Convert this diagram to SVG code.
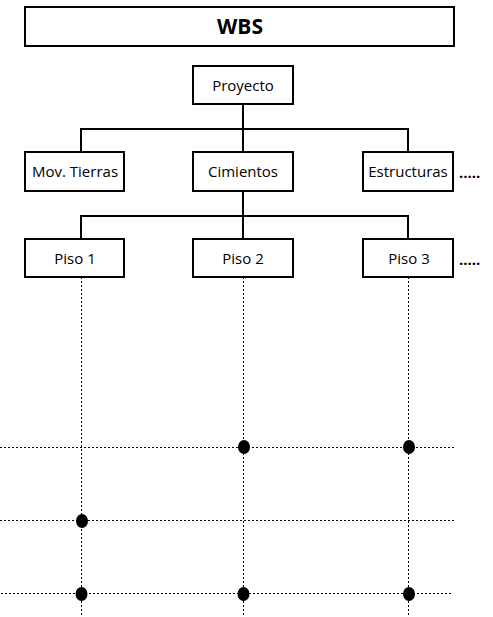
<svg xmlns="http://www.w3.org/2000/svg" width="493" height="617" viewBox="0 0 493 617">
  <style>
    .box { fill: #fff; stroke: #000; stroke-width: 2; }
    .lbl { font-family: "Open Sans", "Liberation Sans", sans-serif; font-size: 15px; fill: #000; text-anchor: middle; }
    .title { font-family: "Open Sans", "Liberation Sans", sans-serif; font-size: 21px; font-weight: bold; fill: #000; text-anchor: middle; }
    .more { font-family: "Open Sans", "Liberation Sans", sans-serif; font-size: 15px; font-weight: bold; fill: #000; }
    .tree { fill: none; stroke: #000; stroke-width: 2; }
    .grid { fill: none; stroke: #000; stroke-width: 1; stroke-dasharray: 2 2; }
    .mark { fill: #000; }
  </style>

  <!-- dotted grid lines -->
  <g id="grid">
    <path class="grid" d="M81.5 277V617M243.5 277V617M408.5 277V617"/>
    <path class="grid" d="M0 447.5H455M0 520.5H455M1 593.5H453"/>
  </g>

  <!-- tree connectors -->
  <g id="connectors">
    <path class="tree" d="M243 104V152M81 152V129H408V152"/>
    <path class="tree" d="M243 191V239M81 239V216H408V239"/>
  </g>

  <g id="title">
    <rect class="box" x="25" y="7" width="429" height="39"/>
    <text class="title" x="240" y="34">WBS</text>
  </g>

  <g id="proyecto">
    <rect class="box" x="193" y="66" width="100" height="38"/>
    <text class="lbl" x="243" y="91">Proyecto</text>
  </g>

  <g id="mov-tierras">
    <rect class="box" x="25" y="152" width="99" height="39"/>
    <text class="lbl" x="75" y="177">Mov. Tierras</text>
  </g>
  <g id="cimientos">
    <rect class="box" x="193" y="152" width="100" height="39"/>
    <text class="lbl" x="243" y="177">Cimientos</text>
  </g>
  <g id="estructuras">
    <rect class="box" x="363" y="152" width="90" height="39"/>
    <text class="lbl" x="408" y="177">Estructuras</text>
  </g>
  <text class="more" x="459" y="178">.....</text>

  <g id="piso-1">
    <rect class="box" x="25" y="239" width="99" height="38"/>
    <text class="lbl" x="75" y="264">Piso 1</text>
  </g>
  <g id="piso-2">
    <rect class="box" x="193" y="239" width="100" height="38"/>
    <text class="lbl" x="243" y="264">Piso 2</text>
  </g>
  <g id="piso-3">
    <rect class="box" x="363" y="239" width="90" height="38"/>
    <text class="lbl" x="409" y="264">Piso 3</text>
  </g>
  <text class="more" x="459" y="265">.....</text>

  <!-- milestone markers -->
  <g id="markers">
    <ellipse class="mark" cx="244" cy="447" rx="6" ry="7"/>
    <ellipse class="mark" cx="409" cy="447" rx="6" ry="7"/>
    <ellipse class="mark" cx="82" cy="521" rx="6" ry="7"/>
    <ellipse class="mark" cx="81.5" cy="594" rx="6" ry="7"/>
    <ellipse class="mark" cx="243.5" cy="594" rx="6" ry="7"/>
    <ellipse class="mark" cx="409" cy="594" rx="6" ry="7"/>
  </g>
</svg>
